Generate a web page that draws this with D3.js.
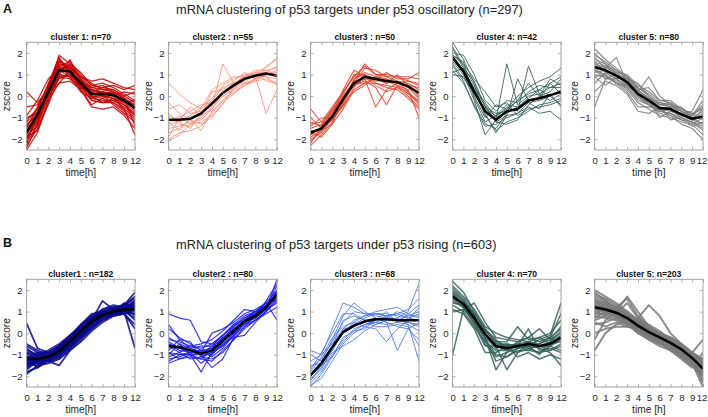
<!DOCTYPE html>
<html><head><meta charset="utf-8">
<script src="https://cdn.jsdelivr.net/npm/d3@7"></script>
<style>body{margin:0;background:#fff}svg{display:block}text{font-family:"Liberation Sans",Arial,sans-serif}</style>
</head><body><svg id="c" width="708" height="417"></svg>
<script>
// ---- data ----
const timeLabels = ["0","1","2","3","4","5","6","7","8","9","12"];
const yTicks = [-2,-1,0,1,2];
const rowTitles = ["mRNA clustering of p53 targets under p53 oscillatory (n=297)",
                   "mRNA clustering of p53 targets under p53 rising (n=603)"];
const rowLetters = ["A","B"];
const clusterTitlesA = ["cluster 1: n=70","cluster2 : n=55","cluster3 : n=50","cluster 4: n=42","cluster 5: n=80"];
const clusterTitlesB = ["cluster1 : n=182","cluster2 : n=80","cluster3 : n=68","cluster 4: n=70","cluster 5: n=203"];
const xLabelsA = ["time[h]","time[h]","time[h]","time[h]","time [h]"];
const xLabelsB = ["time[h]","time[h]","time[h]","time[h]","time [h]"];

const meanA1 = [-1.7,-0.85,0.2,1.2,1.15,0.6,0.1,0.1,0.05,-0.2,-0.55];
const meanA2 = [-1.1,-1.1,-1.05,-0.8,-0.35,0.15,0.5,0.8,0.95,1.05,0.95];
const meanA3 = [-1.7,-1.5,-0.95,-0.15,0.6,0.9,0.8,0.7,0.65,0.45,0.15];
const meanA4 = [1.8,1.15,0.2,-0.7,-1.1,-0.7,-0.6,-0.2,-0.1,0.05,0.2];
const meanA5 = [1.35,1.2,0.95,0.65,0.1,-0.2,-0.55,-0.6,-0.85,-1.05,-0.95];
const meanB1 = [-1.2,-1.2,-1.1,-0.85,-0.4,0.1,0.55,0.85,1.0,1.1,1.1];
const meanB2 = [-0.6,-0.65,-0.8,-0.95,-0.8,-0.35,0.1,0.55,0.8,1.2,1.8];
const meanB3 = [-1.95,-1.4,-0.65,0.05,0.35,0.55,0.65,0.65,0.6,0.6,0.6];
const meanB4 = [1.7,1.35,0.7,-0.05,-0.6,-0.7,-0.6,-0.5,-0.6,-0.5,-0.2];
const meanB5 = [1.2,1.1,0.95,0.7,0.35,0.05,-0.2,-0.45,-0.75,-1.15,-1.65];

const genesA1 = [
[-2.4,-1.3,0.1,1.5,1.3,0.7,0.2,0.0,-0.1,-0.4,-0.9],
[-2.0,-1.0,0.4,1.9,1.5,0.9,0.4,0.3,0.2,-0.1,-0.4],
[-1.5,-0.5,0.5,1.4,1.6,1.0,0.5,0.6,0.4,0.1,-0.2],
[-1.1,-0.6,0.0,0.8,1.0,0.5,-0.2,-0.3,-0.3,-0.6,-1.0],
[0.2,-0.3,0.3,1.0,0.9,0.4,0.1,0.2,0.1,-0.3,-0.7],
[-1.9,-1.6,-0.2,0.6,0.7,0.3,-0.5,-0.6,-0.5,-0.9,-1.5],
[-1.3,-0.9,0.4,1.7,1.2,0.9,0.7,0.8,0.6,0.4,0.3],
[-1.7,-1.2,0.0,1.1,1.4,0.8,0.3,0.1,0.2,-0.1,-0.5],
[-2.5,-1.7,-0.3,1.2,0.9,0.2,-0.1,-0.2,-0.2,-0.5,-0.9],
[-0.9,-0.2,0.8,1.3,1.0,0.6,0.0,0.0,-0.1,-0.3,-0.4],
[-1.6,-1.1,0.2,1.0,1.7,0.7,0.0,-0.3,-0.1,-0.6,-1.8],
[-1.4,-0.7,0.6,1.8,1.1,0.5,0.2,0.4,0.5,0.3,0.5],
[-2.2,-0.8,0.2,1.4,1.2,0.6,-0.1,0.1,-0.4,-0.8,-1.2],
[-1.8,-1.4,-0.1,0.9,0.8,0.4,0.3,0.2,0.0,0.2,0.1],
[-0.5,-0.4,0.4,1.3,1.3,0.9,0.6,0.3,0.3,0.0,-0.3],
[-2.1,-1.0,0.1,0.6,1.2,0.3,-0.4,-0.1,0.1,-0.2,-0.6],
[-1.2,-0.6,0.5,1.6,1.4,0.8,0.3,0.2,0.1,-0.2,-0.6],
[-2.3,-1.5,-0.4,0.9,1.0,0.5,0.0,-0.1,-0.3,-0.7,-1.1],
[-1.0,-0.8,0.3,1.2,1.5,1.1,0.5,0.4,0.3,0.0,0.2],
[-1.9,-1.2,0.2,1.6,1.1,0.4,-0.2,-0.3,-0.2,-0.4,-0.8],
[-1.5,-0.9,0.0,1.0,0.9,0.7,0.4,0.5,0.2,-0.1,-1.4],
[-2.2,-1.3,0.3,1.3,1.4,0.8,0.1,0.0,0.0,-0.3,-0.2]];
const genesA2 = [
[0.6,0.1,-0.3,-0.6,-0.2,0.4,0.6,0.9,1.0,0.9,0.8],
[-2.0,-1.7,-1.6,-1.4,-0.8,-0.2,0.3,0.6,0.8,1.1,1.4],
[-1.5,-1.4,-1.2,-1.1,-0.6,0.0,0.4,0.7,1.1,1.3,1.8],
[-0.8,-1.2,-0.9,-0.5,-0.1,0.5,0.8,1.0,1.0,0.9,0.5],
[-1.3,-0.9,-1.3,-1.0,-0.5,1.5,0.6,0.6,0.7,0.8,0.6],
[-0.6,-0.4,-0.8,-0.7,-0.4,0.0,0.3,0.9,1.2,1.2,1.0],
[-1.7,-1.5,-1.1,-1.6,-0.7,-0.2,0.2,0.5,0.8,1.0,1.1],
[-1.0,-1.3,-1.4,-0.9,0.2,0.3,0.7,1.1,0.9,-0.8,0.3],
[-1.9,-1.0,-0.7,-0.4,-0.3,0.1,0.5,0.8,1.0,1.2,1.3],
[-1.2,-1.6,-1.0,-0.6,0.3,0.6,0.9,0.9,1.1,0.7,0.6],
[-0.3,-0.8,-1.1,-1.3,-1.0,-0.3,0.1,0.5,0.7,1.0,1.2],
[-1.4,-1.1,-0.5,-0.9,-0.6,0.2,0.6,0.9,0.9,1.4,1.7],
[-0.9,-1.2,-1.5,-0.8,-0.2,0.4,0.1,0.6,1.1,1.1,0.9],
[-2.1,-1.8,-1.3,-1.2,-0.9,-0.4,0.4,1.0,0.8,1.0,1.0]];
const genesA3 = [
[-2.3,-1.8,-1.2,-0.3,0.8,1.1,0.9,0.8,0.6,0.4,-0.1],
[-0.6,-1.2,-0.6,0.2,0.9,1.4,1.0,0.9,0.9,0.7,0.5],
[-1.9,-1.6,-1.3,-0.6,0.3,0.6,0.6,0.5,0.4,0.2,-0.4],
[-1.5,-1.3,-0.7,0.1,1.0,1.0,0.8,1.1,0.8,0.8,1.1],
[-2.0,-1.7,-1.0,-0.2,0.5,0.7,0.4,-0.4,0.5,0.1,-0.2],
[-1.2,-1.4,-0.8,0.0,0.6,1.3,1.2,0.9,0.7,0.6,0.3],
[-1.8,-1.5,-1.1,-0.4,0.2,0.5,0.9,0.6,1.0,0.5,0.0],
[-1.6,-1.6,-0.9,0.3,1.2,0.9,0.7,0.7,0.5,0.3,-1.0],
[-2.2,-1.4,-0.6,-0.1,0.7,0.8,-0.5,0.3,0.6,0.5,0.4],
[-1.4,-1.0,-1.0,-0.5,0.4,1.0,0.6,0.4,0.3,-0.1,-0.6],
[-1.7,-1.9,-1.3,0.0,0.7,1.5,1.0,1.0,0.9,0.9,0.8],
[-1.0,-1.5,-0.7,-0.1,0.5,0.8,0.8,0.6,0.7,0.2,-0.3],
[-2.1,-1.6,-1.1,-0.4,0.6,0.6,0.9,0.8,0.6,0.7,0.6],
[-1.3,-1.2,-0.5,0.2,0.9,0.9,0.5,0.2,0.4,0.0,-0.5]];
const genesA4 = [
[2.5,1.7,0.6,-0.5,-1.2,-0.9,-0.8,-0.3,-0.2,0.0,0.3],
[1.2,0.6,-0.4,-1.3,-1.5,-0.8,-0.5,-0.1,0.3,0.6,0.9],
[1.9,1.5,0.8,0.2,-0.5,-0.3,-0.9,-0.6,-0.5,-0.4,-0.2],
[1.6,1.0,-0.2,-1.8,-1.1,1.5,-0.4,0.0,0.1,0.4,0.6],
[2.2,1.3,0.3,-0.9,-1.6,-1.2,-1.0,-0.7,-0.4,-0.3,-0.1],
[1.0,0.9,0.1,-0.6,-0.9,-0.6,0.0,0.4,0.7,0.9,1.3],
[1.8,1.2,0.4,-0.3,-1.0,-0.5,-0.7,1.4,0.1,-0.2,0.1],
[2.0,1.9,1.0,-0.2,-0.7,-0.2,-0.3,0.2,0.5,0.4,0.4],
[1.4,0.7,-0.5,-1.4,-1.3,-1.0,-0.8,-0.5,-0.8,-0.7,-1.1],
[1.7,1.1,0.0,-1.0,-0.4,-0.6,-0.2,0.1,0.3,0.0,-0.4],
[2.3,1.4,0.5,-0.8,-1.7,-0.9,0.8,-0.2,-0.1,0.6,0.1],
[1.5,0.8,0.3,-0.4,-1.2,-1.3,-1.1,-0.4,0.0,0.2,0.8],
[1.9,1.6,-0.1,-1.2,-0.9,-0.4,-0.5,-0.3,-0.6,0.1,-0.5],
[1.1,1.3,0.7,-0.5,-0.8,-0.7,-0.2,0.6,0.0,0.8,0.5]];
const genesA5 = [
[2.2,1.7,1.3,0.9,0.4,0.1,-0.3,-0.4,-0.6,-0.8,-0.6],
[-0.5,0.8,1.0,0.5,0.0,-0.3,-0.6,-0.7,-0.9,-1.1,-1.3],
[1.7,1.5,1.1,1.0,0.5,0.2,-0.2,-0.3,-0.6,-0.9,-0.4],
[1.0,0.9,0.7,0.3,-0.3,-0.6,-0.9,-1.0,-1.2,-1.3,-1.8],
[1.5,1.3,1.8,0.6,0.2,0.9,0.0,-0.4,-0.7,-1.0,-0.9],
[0.6,1.1,0.8,0.4,-0.1,-0.4,-0.8,-0.9,-1.1,-1.4,-1.2],
[1.9,1.6,1.2,0.9,0.3,-0.1,-0.5,-0.6,-0.8,-0.7,0.3],
[1.2,1.0,0.6,0.2,-0.5,-0.5,-0.6,-0.9,-1.3,-1.5,-2.0],
[1.4,1.4,1.0,0.8,0.6,0.0,-0.4,-0.5,-0.5,-1.0,-0.7],
[0.9,0.5,0.9,0.7,0.0,-0.3,-0.7,-0.6,-1.0,-1.2,-1.5],
[1.6,1.1,0.8,0.5,0.1,-0.2,-1.0,-0.7,-0.8,-0.9,-0.2],
[0.2,0.7,0.5,0.1,-0.7,-0.8,-0.5,-1.1,-1.0,-1.3,-1.0],
[1.8,1.3,1.1,0.7,0.3,0.4,-0.2,-0.2,-0.6,-0.8,-1.1],
[1.1,1.2,0.9,0.8,0.2,-0.1,-0.4,-0.3,-0.9,-1.1,-0.6],
[1.3,0.9,0.6,0.4,-0.2,-0.4,-0.7,-0.8,-1.0,-1.2,-1.6],
[1.6,1.4,1.2,0.8,0.2,-0.1,-0.3,-0.5,-0.7,-1.0,-1.3],
[0.9,1.0,0.6,0.5,0.1,-0.1,-0.6,-0.5,-0.9,-1.1,-0.8],
[2.0,1.5,1.0,0.6,0.0,-0.4,-0.7,-0.8,-1.1,-1.2,-1.4],
[1.2,0.8,0.8,0.9,0.4,0.0,-0.4,-0.4,-0.7,-0.9,-0.5]];
const genesB1 = [
[-1.9,-1.5,-1.4,-1.2,-0.7,-0.2,0.3,0.6,0.8,0.9,1.0],
[0.45,-0.7,-0.9,-0.6,-0.2,0.2,0.7,0.9,1.1,1.2,1.3],
[-1.5,-1.3,-1.3,-1.0,-0.5,0.0,0.5,0.8,0.9,1.0,0.7],
[-0.8,-1.0,-0.8,-0.5,-0.1,0.4,0.8,1.0,1.2,1.3,1.6],
[-1.3,-1.4,-1.2,-1.0,-0.6,-0.1,0.4,0.7,0.9,1.0,0.9],
[-1.0,-1.1,-1.0,-0.7,-0.3,0.3,0.7,1.0,1.1,1.1,1.2],
[-1.6,-1.2,-1.3,-1.5,-0.8,-0.3,0.2,0.6,0.9,1.1,1.4],
[-1.1,-1.3,-1.1,-0.8,-0.4,0.1,0.6,0.9,1.0,1.0,-0.7],
[-1.4,-1.2,-1.0,-0.9,-0.5,0.0,0.5,0.7,1.0,1.3,1.9],
[-0.6,-0.9,-0.9,-0.8,-0.4,0.1,0.6,1.5,1.1,1.0,1.0],
[-1.2,-1.6,-1.2,-0.9,-0.6,-0.2,0.3,0.7,1.0,1.2,1.1],
[-1.7,-1.3,-1.1,-0.7,-0.3,0.2,0.6,0.8,0.9,0.9,0.4],
[-0.9,-1.0,-1.2,-1.1,-0.5,0.0,0.4,0.9,1.2,1.2,1.5],
[-1.3,-1.1,-0.9,-0.6,-0.2,0.4,0.9,1.0,1.1,1.0,1.1],
[-1.0,-1.4,-1.3,-0.9,-0.3,0.2,0.5,0.8,0.9,1.2,0.8],
[-1.5,-1.2,-1.0,-0.8,-0.5,0.0,0.4,0.8,1.0,1.1,1.3],
[-1.1,-0.9,-1.1,-1.0,-0.6,-0.1,0.5,0.9,1.1,1.3,1.2],
[-1.4,-1.5,-1.2,-0.8,-0.4,0.1,0.7,0.9,0.9,1.0,0.9],
[-0.7,-1.1,-1.0,-0.7,-0.3,0.3,0.6,1.1,1.2,1.1,1.0],
[-1.6,-1.3,-1.1,-1.0,-0.7,-0.2,0.2,0.7,0.8,0.9,1.2],
[-1.8,-1.6,-1.3,-1.1,-0.6,-0.1,0.4,0.8,1.0,1.2,1.4],
[-1.2,-1.0,-0.9,-0.9,-0.4,0.2,0.7,0.8,1.0,1.1,0.6],
[-0.5,-0.8,-1.0,-0.9,-0.5,0.0,0.5,0.9,1.1,1.3,1.7],
[-1.3,-1.2,-1.3,-1.2,-0.8,-0.4,0.1,0.5,0.8,1.0,1.0],
[-1.0,-1.2,-1.1,-0.6,-0.1,0.3,0.8,1.1,1.3,1.2,1.0],
[-1.5,-1.4,-1.1,-0.9,-0.4,0.2,0.6,0.9,0.9,1.0,1.5],
[-0.9,-1.3,-1.2,-0.8,-0.3,0.1,0.5,0.7,1.0,1.4,1.2],
[-1.4,-1.1,-1.0,-0.7,-0.2,0.3,0.6,1.0,1.1,0.9,0.2]];
const genesB2 = [
[0.9,0.7,0.6,-0.4,-0.5,-0.1,0.3,0.7,1.0,1.3,1.6],
[-1.4,-1.2,-1.1,-1.2,-1.3,-0.8,-0.3,0.2,0.6,1.0,1.6],
[-0.3,-0.4,-0.6,-0.7,-0.5,-0.1,0.4,0.8,1.0,1.4,2.0],
[-0.9,-1.0,-1.0,-1.8,-0.9,-0.5,0.0,0.4,0.8,1.1,2.5],
[-0.5,-0.8,-0.9,-1.0,-1.6,-1.2,-0.2,0.5,0.7,1.2,1.9],
[0.2,-0.2,-0.5,-0.8,-0.7,-0.2,0.2,0.6,0.9,1.3,1.7],
[-1.1,-0.9,-1.2,-1.1,-0.9,-0.6,-0.1,0.3,0.6,1.0,1.5],
[-0.7,-0.6,-0.7,-0.9,0.0,0.2,0.5,0.9,1.1,1.4,0.6],
[-0.4,-0.7,-0.8,-1.0,-1.0,-0.5,-0.2,-0.1,0.5,1.0,1.8],
[-1.0,-0.5,-0.7,-0.6,-0.6,-0.3,0.3,0.7,0.9,1.2,2.2],
[-0.2,-0.5,-1.0,-1.2,-0.8,-0.4,0.1,0.5,0.7,1.1,1.4],
[-1.2,-1.1,-0.9,-0.8,-1.1,-0.7,-0.1,0.6,0.9,1.3,1.9],
[-0.6,-0.9,-0.6,-0.5,-0.3,0.1,0.6,1.1,1.0,1.2,1.7],
[-0.8,-0.3,-0.4,-1.1,-1.2,-0.9,-0.3,0.3,0.8,1.5,2.3],
[-1.3,-1.0,-0.9,-1.4,-1.0,-0.4,0.2,0.4,0.6,0.9,1.2],
[0.4,-0.3,-0.7,-0.9,-0.7,-0.2,0.0,0.5,0.9,1.2,1.8],
[-0.5,-0.7,-0.9,-0.8,-0.9,-0.6,0.0,0.6,0.7,1.1,2.0],
[-0.9,-1.2,-1.0,-1.0,-0.6,-0.1,0.4,0.6,1.0,1.4,1.5]];
const genesB3 = [
[-2.5,-1.9,-1.1,-0.4,0.1,0.4,0.6,0.7,0.6,0.5,0.4],
[-0.8,-1.0,0.2,1.4,1.2,0.9,0.8,0.7,0.6,0.8,1.0],
[-1.6,-1.2,-0.4,0.5,1.0,0.9,0.9,0.8,0.9,0.7,0.6],
[-2.2,-1.6,-0.9,-0.6,-0.3,0.1,0.4,0.6,0.7,1.0,2.3],
[-1.9,-1.3,-0.3,0.8,1.4,1.0,0.7,0.5,0.3,0.2,-0.3],
[-2.0,-1.5,-0.8,0.0,0.3,0.6,0.7,0.5,-0.8,0.2,0.5],
[-1.3,-1.0,-0.5,0.2,0.6,0.8,1.0,1.1,1.2,0.9,0.7],
[-2.3,-1.8,-1.0,-0.3,0.2,0.4,0.5,0.4,0.5,0.4,-1.3],
[-1.8,-1.1,-0.2,0.3,0.5,0.3,0.2,-0.4,0.2,0.6,1.2],
[-2.1,-1.7,-0.7,0.1,0.4,0.7,0.9,0.9,0.8,0.7,0.9],
[-1.5,-1.4,-0.6,0.6,0.8,0.6,0.4,0.6,0.7,0.4,0.1],
[-2.4,-2.1,-1.3,-0.5,0.0,0.3,0.6,0.8,0.9,1.1,1.6],
[-1.0,-1.3,-0.6,0.0,0.5,0.8,0.9,0.8,0.6,0.5,0.3],
[-2.0,-1.4,-0.8,0.2,0.3,0.5,0.3,0.3,0.4,0.3,-0.6],
[-1.7,-0.9,0.0,0.9,0.9,0.6,0.5,0.7,1.0,0.8,0.8],
[-2.2,-1.5,-1.1,-0.2,0.1,0.2,0.6,1.0,0.5,0.9,1.3]];
const genesB4 = [
[2.4,1.9,1.0,0.2,-0.5,-0.6,-0.5,-0.4,-0.5,-0.3,0.0],
[1.0,1.1,0.6,-0.3,-1.0,-1.1,-0.8,-0.8,-0.9,-0.8,-0.6],
[-1.0,1.1,1.4,0.5,-0.2,-0.3,-0.4,-0.2,-0.4,-0.2,0.2],
[1.9,1.5,0.8,-0.2,-1.7,-0.9,-0.7,-0.6,-0.7,-0.9,-1.5],
[1.5,1.2,0.4,-0.6,-0.6,-1.7,-0.9,-0.5,-0.6,-0.4,0.1],
[2.1,1.6,0.9,0.1,-0.4,-0.4,0.3,-0.3,-0.2,-0.5,-0.4],
[1.3,1.0,0.3,-0.4,-0.8,-0.8,-0.6,0.2,-0.8,-0.7,-0.9],
[1.8,1.4,0.7,-0.1,-0.5,-0.5,-0.7,-0.6,-0.3,-0.1,1.4],
[1.6,1.2,0.5,-0.5,-1.1,-0.9,-0.5,-0.7,-0.9,-0.6,-0.3],
[2.2,1.7,1.1,0.3,0.0,-0.2,-0.3,-0.4,-0.2,0.0,0.6],
[1.1,0.9,0.2,-0.9,-0.9,-0.6,-1.1,-0.9,-1.2,-1.0,-1.2],
[1.7,1.3,0.6,0.0,-0.6,-0.8,-0.4,-0.2,0.2,-0.3,0.3],
[2.0,1.5,0.9,0.2,-0.3,-0.7,-0.9,-0.7,-0.6,-0.6,-0.8],
[1.4,1.3,0.5,-0.2,-0.7,-0.5,-0.6,-0.8,-0.5,-0.2,0.9],
[1.7,1.4,0.8,-0.2,-1.3,-1.1,-0.7,-0.4,-0.6,-0.8,-0.5],
[1.9,1.2,0.6,0.1,-0.4,-0.6,-0.5,-0.6,-1.0,-0.4,-0.1]];
const genesB5 = [
[2.0,1.7,1.4,1.0,0.6,0.3,0.0,-0.3,-0.6,-1.0,-1.5],
[-0.8,0.0,0.4,0.6,0.3,0.1,-0.1,-0.4,-0.6,-1.0,-1.3],
[1.5,1.3,1.1,0.8,0.4,0.1,-0.2,-0.5,-0.8,-1.3,-2.0],
[0.9,0.9,0.8,0.6,0.2,-0.1,-0.4,-0.6,-0.9,-1.3,-1.8],
[1.3,1.2,1.0,1.7,1.0,0.3,-0.1,-0.3,-0.7,-1.1,-1.5],
[0.0,0.2,0.3,0.3,0.7,1.3,0.8,0.0,-0.5,-0.9,-1.4],
[1.7,1.5,1.2,0.9,0.5,0.2,0.0,-0.2,-0.5,-0.9,-1.3],
[1.1,1.0,0.9,0.6,0.2,-0.2,-0.5,-0.7,-1.0,-1.4,-2.5],
[0.4,0.5,0.7,0.4,0.1,-0.1,-0.3,-0.5,-0.8,-0.9,-0.3],
[1.4,1.3,1.1,0.8,0.5,0.2,-0.1,-0.4,-0.7,-1.2,-1.9],
[1.0,0.8,0.7,0.5,0.0,-0.2,-0.4,-0.8,-1.0,-1.3,-1.6],
[1.6,1.4,1.0,0.7,0.4,0.0,-0.3,-0.5,-0.8,-1.1,-1.4],
[0.7,1.0,0.9,1.4,0.7,0.4,0.1,-0.3,-0.6,-1.0,-1.2],
[1.2,0.9,0.8,0.6,0.3,0.0,-0.2,-0.6,-0.9,-1.4,-2.2],
[-0.3,0.6,1.0,0.9,0.5,0.2,-0.2,-0.4,-0.7,-1.0,-1.7],
[1.8,1.6,1.3,1.0,0.6,0.2,-0.1,-0.3,-0.6,-1.0,-1.5],
[1.1,1.2,0.9,0.5,0.1,-0.3,-0.5,-0.7,-1.1,-1.5,-1.9],
[0.5,0.3,0.5,0.3,0.2,-0.1,-0.4,-0.8,-1.2,-1.6,-0.9],
[1.3,1.1,1.1,0.8,0.3,0.1,-0.2,-0.5,-0.9,-1.2,-1.7],
[0.9,1.1,0.8,0.7,0.4,-0.1,-0.3,-0.4,-0.7,-1.2,-1.6],
[1.5,1.4,1.2,0.9,0.6,0.3,0.0,-0.2,-0.5,-0.9,-1.2],
[0.8,0.7,0.6,0.4,0.0,-0.3,-0.6,-0.8,-1.1,-1.5,-2.1],
[1.9,1.5,1.1,0.8,0.3,0.0,-0.2,-0.4,-0.7,-1.1,-1.8],
[1.0,1.1,1.0,0.7,0.5,0.1,-0.1,-0.4,-0.7,-1.0,-1.4],
[1.3,1.0,0.8,0.5,0.2,-0.1,-0.4,-0.6,-0.9,-1.3,-1.6],
[0.6,0.8,1.2,1.6,0.8,0.3,-0.2,-0.6,-0.8,-1.2,-2.3],
[1.4,1.2,1.0,0.6,0.4,0.2,-0.2,-0.5,-0.8,-1.0,-1.4],
[1.2,1.3,0.9,0.8,0.3,0.0,-0.4,-0.6,-1.0,-1.4,-1.9]];

// ---- styles / layout ----
const colorsA = ["#c00000","#fa8f78","#e3432c","#2f5a55","#7d7d7d"];
const colorsB = ["#0a0a8c","#1a1af0","#4a76e6","#34605b","#7a7a7a"];
const widthsA = [1.3,1.0,1.1,1.0,1.2];
const widthsB = [1.8,1.2,1.0,1.5,2.0];

const rows = [
  {top:42.3, titleY:13.5, letterY:12.5, genes:[genesA1,genesA2,genesA3,genesA4,genesA5],
   means:[meanA1,meanA2,meanA3,meanA4,meanA5], titles:clusterTitlesA, xlabels:xLabelsA, colors:colorsA, widths:widthsA},
  {top:279.3, titleY:248.5, letterY:247, genes:[genesB1,genesB2,genesB3,genesB4,genesB5],
   means:[meanB1,meanB2,meanB3,meanB4,meanB5], titles:clusterTitlesB, xlabels:xLabelsB, colors:colorsB, widths:widthsB}
];
const pw = 108.4, ph = 107.7;
const px0 = 26.6, pdx = 142.0;

const svg = d3.select("#c");
const defs = svg.append("defs");

rows.forEach((row, r) => {
  svg.append("text").attr("x", 3).attr("y", row.letterY)
    .attr("font-size", 12.5).attr("font-weight", "bold").attr("fill", "#111").text(rowLetters[r]);
  svg.append("text").attr("x", 176).attr("y", row.titleY)
    .attr("font-size", 12.8).attr("fill", "#222").text(rowTitles[r]);

  for (let i = 0; i < 5; i++) {
    const x0 = px0 + i * pdx, y0 = row.top;
    const x = d3.scaleLinear().domain([0, timeLabels.length - 1]).range([0, pw]);
    const y = d3.scaleLinear().domain([-2.5, 2.5]).range([ph, 0]);
    const g = svg.append("g").attr("transform", `translate(${x0},${y0})`);
    const cid = `clip${r}${i}`;
    defs.append("clipPath").attr("id", cid).append("rect").attr("width", pw).attr("height", ph);

    const line = d3.line().x((d, k) => x(k)).y(d => y(d));
    const lg = g.append("g").attr("clip-path", `url(#${cid})`);
    lg.selectAll("path.gene").data(row.genes[i]).join("path")
      .attr("class", "gene").attr("d", line).attr("fill", "none")
      .attr("stroke", row.colors[i]).attr("stroke-width", row.widths[i]).attr("stroke-opacity", 0.85)
      .attr("stroke-linejoin", "round");
    lg.append("path").attr("d", line(row.means[i])).attr("fill", "none")
      .attr("stroke", "#000").attr("stroke-width", 2.5).attr("stroke-linejoin", "round");

    // axes
    const xa = d3.axisBottom(x).tickValues(d3.range(timeLabels.length))
      .tickFormat(k => timeLabels[k]).tickSize(-3).tickPadding(7);
    const ya = d3.axisLeft(y).tickValues(yTicks).tickFormat(d3.format("d")).tickSize(-3).tickPadding(4);
    const gx = g.append("g").attr("transform", `translate(0,${ph})`).call(xa);
    const gy = g.append("g").call(ya);
    [gx, gy].forEach(a => {
      a.select(".domain").remove();
      a.selectAll(".tick line").attr("stroke", "#9a9a9a").attr("stroke-width", 0.8);
      a.selectAll(".tick text").attr("fill", "#262626").attr("font-size", 9.6)
        .attr("font-family", "Liberation Sans, Arial, sans-serif");
    });
    if (i === 4) gx.selectAll(".tick:last-of-type text").attr("dx", -1.4);
    // top/right inner ticks
    g.append("g").attr("transform", `translate(${pw},0)`)
      .call(d3.axisRight(y).tickValues(yTicks).tickSize(-3).tickFormat(""))
      .call(a => { a.select(".domain").remove(); a.selectAll("line").attr("stroke", "#9a9a9a").attr("stroke-width", 0.8); });
    g.append("g")
      .call(d3.axisTop(x).tickValues(d3.range(timeLabels.length)).tickSize(-3).tickFormat(""))
      .call(a => { a.select(".domain").remove(); a.selectAll("line").attr("stroke", "#9a9a9a").attr("stroke-width", 0.8); });
    g.append("rect").attr("width", pw).attr("height", ph).attr("fill", "none")
      .attr("stroke", "#9a9a9a").attr("stroke-width", 0.9);

    g.append("text").attr("x", pw / 2).attr("y", -2.5).attr("text-anchor", "middle")
      .attr("font-size", 8.6).attr("font-weight", "bold").attr("fill", "#111").text(row.titles[i]);
    g.append("text").attr("x", pw / 2).attr("y", ph + 26).attr("text-anchor", "middle")
      .attr("font-size", 10.2).attr("fill", "#262626").text(row.xlabels[i]);
    g.append("text").attr("transform", `translate(-16.5,${y(0)}) rotate(-90)`).attr("text-anchor", "middle")
      .attr("font-size", 10.2).attr("fill", "#262626").text("zscore");
  }
});
</script></body></html>
